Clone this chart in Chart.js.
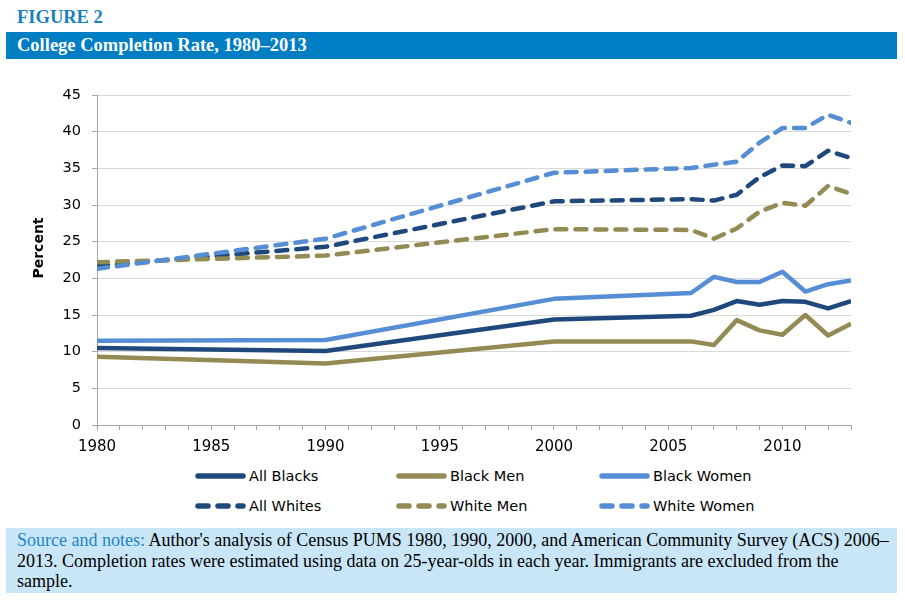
<!DOCTYPE html>
<html>
<head>
<meta charset="utf-8">
<script src="https://cdn.jsdelivr.net/npm/chart.js@4.4.1/dist/chart.umd.min.js"></script>
<style>
  html, body { margin:0; padding:0; background:#fff; width:905px; height:603px; overflow:hidden; }
  #fig { position:absolute; left:17px; top:5px; font-family:"Liberation Serif", serif; font-weight:bold; font-size:18.5px; color:#1a7fc1; line-height:24px; }
  #bar { position:absolute; left:6px; top:32px; width:891px; height:27px; background:#007dc3; }
  #bar span { position:absolute; left:11px; top:3px; font-family:"Liberation Serif", serif; font-weight:bold; font-size:18.5px; color:#fff; line-height:21px; white-space:nowrap; }
  #chart { position:absolute; left:0; top:60px; }
  .leg { position:absolute; height:20px; font-family:"DejaVu Sans", sans-serif; font-size:14.5px; color:#000; white-space:nowrap; }
  .leg svg { position:absolute; left:0; top:0; }
  .leg span { position:absolute; left:54px; top:1px; line-height:18px; }
  #notes { position:absolute; left:6px; top:528px; width:891px; height:65px; background:#c9e6f8; }
  #notes div { position:absolute; left:11px; top:2px; font-family:"Liberation Serif", serif; font-size:18px; line-height:20.5px; color:#000; white-space:nowrap; }
  #notes .src { color:#1a86c8; }
</style>
</head>
<body>
<div id="fig">FIGURE 2</div>
<div id="bar"><span>College Completion Rate, 1980–2013</span></div>
<canvas id="chart" width="905" height="400"></canvas>
<div id="legend"></div>
<div id="notes"><div><span class="src">Source and notes:</span> Author's analysis of Census PUMS 1980, 1990, 2000, and American Community Survey (ACS) 2006–<br>2013. Completion rates were estimated using data on 25-year-olds in each year. Immigrants are excluded from the<br>sample.</div></div>
<script>
// ---- data ----
const years        = [1980, 1990, 2000, 2006, 2007, 2008, 2009, 2010, 2011, 2012, 2013];
const allBlacks    = [10.5, 10.1, 14.4, 14.9, 15.7, 16.9, 16.4, 16.9, 16.8, 15.9, 16.9];
const blackMen     = [9.3,  8.4,  11.4, 11.4, 10.9, 14.3, 12.9, 12.3, 15.0, 12.2, 13.8];
const blackWomen   = [11.5, 11.6, 17.2, 18.0, 20.2, 19.5, 19.5, 20.9, 18.2, 19.2, 19.7];
const allWhites    = [21.7, 24.3, 30.5, 30.8, 30.6, 31.4, 33.8, 35.4, 35.3, 37.4, 36.4];
const whiteMen     = [22.2, 23.1, 26.7, 26.6, 25.4, 26.8, 29.1, 30.3, 29.9, 32.6, 31.5];
const whiteWomen   = [21.3, 25.4, 34.4, 35.05, 35.5, 35.9, 38.5, 40.5, 40.5, 42.3, 41.2];
const seriesNames  = ["All Blacks", "Black Men", "Black Women", "All Whites", "White Men", "White Women"];
const seriesValues = [allBlacks, blackMen, blackWomen, allWhites, whiteMen, whiteWomen];
const yTicks       = [0, 5, 10, 15, 20, 25, 30, 35, 40, 45];
const xLabelYears  = [1980, 1985, 1990, 1995, 2000, 2005, 2010];

const colors = ["#1f497d", "#948a54", "#558ed5", "#1f497d", "#948a54", "#558ed5"];
const dashed = [false, false, false, true, true, true];

const datasets = seriesNames.map((name, i) => ({
  label: name,
  data: years.map((yr, k) => ({ x: yr, y: seriesValues[i][k] })),
  borderColor: colors[i],
  backgroundColor: colors[i],
  borderWidth: 4.5,
  borderDash: dashed[i] ? [11, 9] : [],
  borderCapStyle: dashed[i] ? "round" : "butt",
  borderJoinStyle: "round",
  pointRadius: 0,
  pointHoverRadius: 0,
  tension: 0,
  fill: false,
  order: seriesNames.length - i
}));

const axisTitlePlugin = {
  id: "axisTitle",
  afterDraw(chart) {
    const ctx = chart.ctx;
    ctx.save();
    ctx.translate(39, 248 - 60);
    ctx.rotate(-Math.PI / 2);
    ctx.font = "bold 14px 'DejaVu Sans'";
    ctx.fillStyle = "#000";
    ctx.textAlign = "center";
    ctx.textBaseline = "middle";
    ctx.fillText("Percent", 0, 0);
    ctx.restore();
  }
};

new Chart(document.getElementById("chart"), {
  type: "line",
  data: { datasets },
  plugins: [axisTitlePlugin],
  options: {
    responsive: false,
    animation: false,
    devicePixelRatio: 1,
    layout: { padding: { left: 0, right: 54, top: 35, bottom: 0 } },
    plugins: { legend: { display: false }, tooltip: { enabled: false } },
    scales: {
      x: {
        type: "linear",
        min: 1980, max: 2013,
        afterFit(scale) { scale.height = 35; },
        afterBuildTicks(scale) {
          const t = [];
          for (let v = 1980; v <= 2013; v++) t.push({ value: v });
          scale.ticks = t;
        },
        ticks: {
          autoSkip: false, maxRotation: 0, minRotation: 0, padding: 8,
          font: { family: "'DejaVu Sans'", size: 15 }, color: "#000",
          callback: (v) => xLabelYears.includes(v) ? String(v) : ""
        },
        grid: { drawOnChartArea: false, drawTicks: true, tickLength: 5, tickColor: "#a6a6a6", color: "#a6a6a6" },
        border: { display: true, color: "#a6a6a6", width: 1 }
      },
      y: {
        min: 0, max: 45,
        afterFit(scale) { scale.width = 97; },
        afterBuildTicks(scale) { scale.ticks = yTicks.map(v => ({ value: v })); },
        ticks: { padding: 11, font: { family: "'DejaVu Sans'", size: 14.5 }, color: "#000" },
        grid: { color: "#d9d9d9", lineWidth: 1, drawTicks: true, tickLength: 5, tickColor: "#a6a6a6" },
        border: { display: true, color: "#a6a6a6", width: 1 }
      }
    }
  }
});

// ---- HTML legend ----
const legPos = [[195, 466], [396, 466], [599, 466], [195, 496], [396, 496], [599, 496]];
const legend = document.getElementById("legend");
seriesNames.forEach((name, i) => {
  const d = document.createElement("div");
  d.className = "leg";
  d.style.left = legPos[i][0] + "px";
  d.style.top = legPos[i][1] + "px";
  const dash = dashed[i] ? 'stroke-dasharray="10 10"' : "";
  d.innerHTML = `<svg width="54" height="20"><line x1="3" y1="10" x2="48" y2="10" stroke="${colors[i]}" stroke-width="5.5" stroke-linecap="round" ${dash}/></svg><span>${name}</span>`;
  legend.appendChild(d);
});
</script>
</body>
</html>
